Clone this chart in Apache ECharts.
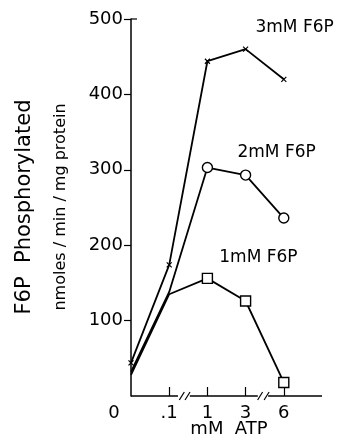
<!DOCTYPE html>
<html>
  <head>
    <title></title>
    <meta charset="UTF-8" />
    <script src="https://cdn.jsdelivr.net/npm/echarts@6/dist/echarts.min.js"></script>
  </head>
  <body style="margin:0;background:#fff">
    <div id="main"></div>
    <script>
      const width = 341;
      const height = 438;
      const main = document.getElementById('main');
      main.style.width = `${width}px`;
      main.style.height = `${height}px`;

      // x positions are evenly spaced (axis is broken between them)
      const atpLabels = ['0', '.1', '1', '3', '6'];
      const xPos = [0, 1, 2, 3, 4];
      const f6p3 = [44, 174, 444, 460, 420];
      const f6p2 = [32, 138, 303, 293, 236];
      const f6p1 = [28, 135, 156, 126, 18];
      const seriesNames = ['3mM F6P', '2mM F6P', '1mM F6P'];
      const yTicks = [0, 100, 200, 300, 400, 500];

      // axis decoration: line pieces and the // break marks
      const axisPieces = [[0, 1.23], [1.54, 3.32], [3.59, 5]];
      const breakMarks = [1.33, 1.48, 3.38, 3.55];

      const FONT = 'DejaVu Sans';

      function makeData(values, labelIdx, label, offset, hideFirst) {
        return values.map((v, i) => {
          const item = { value: [xPos[i], v] };
          if (hideFirst && i < 2) item.symbol = 'none';
          if (i === labelIdx) {
            item.label = {
              show: true,
              formatter: label,
              position: 'inside',
              align: 'center',
              verticalAlign: 'middle',
              offset: offset,
              color: '#000',
              fontFamily: FONT,
              fontSize: 17,
            };
          }
          return item;
        });
      }

      const lineBase = {
        type: 'line',
        lineStyle: { color: '#000', width: 1.8 },
        itemStyle: { color: '#fff', borderColor: '#000', borderWidth: 1.4 },
        emphasis: { disabled: true },
        z: 3,
      };

      const myChart = echarts.init(main);
      const option = {
        animation: false,
        backgroundColor: '#fff',
        grid: { left: 131, right: 19, top: 19, bottom: 42, outerBoundsMode: 'none' },
        xAxis: {
          type: 'value',
          min: 0,
          max: 5,
          interval: 1,
          splitLine: { show: false },
          axisLine: { show: false },
          axisTick: {
            show: true,
            inside: true,
            length: 9,
            customValues: [1, 2, 3, 4],
            lineStyle: { color: '#000', width: 1.2 },
          },
          axisLabel: {
            customValues: xPos,
            margin: 8,
            color: '#000',
            fontFamily: FONT,
            fontSize: 18,
            formatter: (v) => (v === 0 ? '{z|0}' : atpLabels[v]),
            rich: {
              z: { padding: [0, 34, 0, 0], fontFamily: FONT, fontSize: 18, color: '#000' },
            },
          },
          name: 'mM  ATP',
          nameLocation: 'middle',
          nameGap: 24,
          nameMoveOverlap: false,
          nameTextStyle: { color: '#000', fontFamily: FONT, fontSize: 18, padding: [0, 0, 0, 5] },
        },
        yAxis: {
          type: 'value',
          min: 0,
          max: 500,
          interval: 100,
          splitLine: { show: false },
          axisLine: { show: true, lineStyle: { color: '#000', width: 1.5 } },
          axisTick: { show: true, length: 7, lineStyle: { color: '#000', width: 1.2 } },
          axisLabel: {
            showMinLabel: false,
            margin: 8,
            color: '#000',
            fontFamily: FONT,
            fontSize: 18,
            formatter: (v) => (yTicks.includes(v) ? String(v) : ''),
          },
        },
        graphic: [
          {
            type: 'text',
            x: 25,
            y: 207,
            rotation: Math.PI / 2,
            style: {
              text: 'F6P  Phosphorylated',
              font: `21px "${FONT}"`,
              fill: '#000',
              align: 'center',
              verticalAlign: 'middle',
            },
          },
          {
            type: 'text',
            x: 61,
            y: 207,
            rotation: Math.PI / 2,
            style: {
              text: 'nmoles / min / mg protein',
              font: `16px "${FONT}"`,
              fill: '#000',
              align: 'center',
              verticalAlign: 'middle',
            },
          },
        ],
        series: [
          Object.assign({}, lineBase, {
            name: seriesNames[0],
            symbol: 'path://M0,0L10,10M10,0L0,10',
            symbolSize: 5,
            itemStyle: { color: 'none', borderColor: '#000', borderWidth: 1.2 },
            data: makeData(f6p3, 3, seriesNames[0], [49, -22], false),
          }),
          Object.assign({}, lineBase, {
            name: seriesNames[1],
            symbol: 'circle',
            symbolSize: 10,
            data: makeData(f6p2, 3, seriesNames[1], [31, -22], true),
          }),
          Object.assign({}, lineBase, {
            name: seriesNames[2],
            symbol: 'rect',
            symbolSize: 10,
            data: makeData(f6p1, 2, seriesNames[2], [51, -21], true),
          }),
          {
            type: 'custom',
            silent: true,
            z: 2,
            data: [0],
            renderItem: (params, api) => {
              const children = [];
              axisPieces.forEach(([a, b]) => {
                const p1 = api.coord([a, 0]);
                const p2 = api.coord([b, 0]);
                children.push({
                  type: 'line',
                  shape: { x1: p1[0], y1: p1[1], x2: p2[0], y2: p2[1] },
                  style: { stroke: '#000', lineWidth: 1.5 },
                });
              });
              breakMarks.forEach((b) => {
                const p = api.coord([b, 0]);
                children.push({
                  type: 'line',
                  shape: { x1: p[0] - 2.5, y1: p[1] + 4, x2: p[0] + 2.5, y2: p[1] - 4 },
                  style: { stroke: '#000', lineWidth: 1.2 },
                });
              });
              // small cap at the top of the y axis
              const top = api.coord([0, 500]);
              children.push({
                type: 'line',
                shape: { x1: top[0], y1: top[1], x2: top[0] + 6, y2: top[1] },
                style: { stroke: '#000', lineWidth: 1.2 },
              });
              return { type: 'group', children };
            },
          },
        ],
      };
      myChart.setOption(option);
    </script>
  </body>
</html>
